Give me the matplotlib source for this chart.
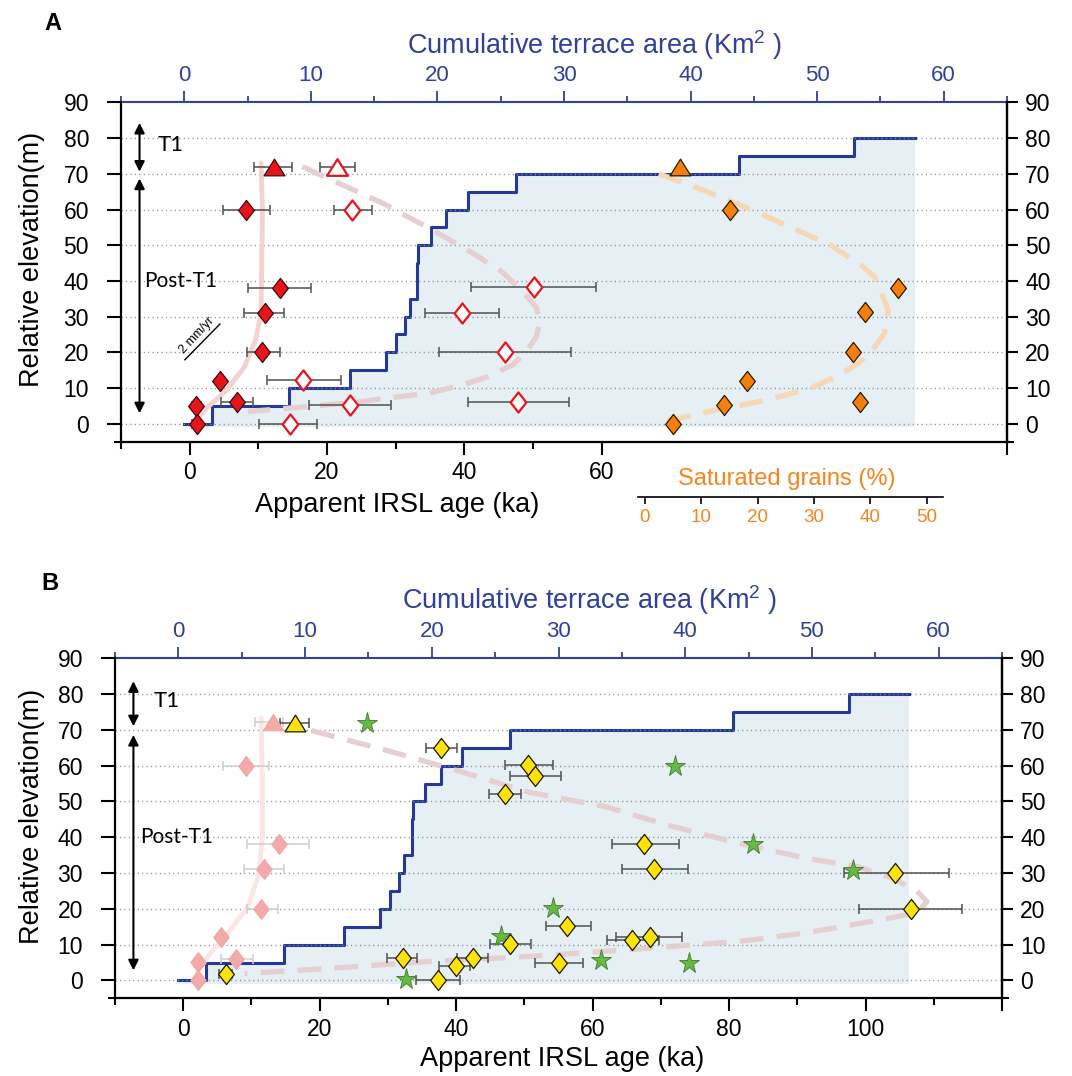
import matplotlib

matplotlib.use("Agg")

import matplotlib.pyplot as plt
from matplotlib.path import Path

plt.rcParams["font.family"] = ["Liberation Sans", "DejaVu Sans"]
plt.rcParams["mathtext.fontset"] = "custom"
plt.rcParams["mathtext.rm"] = "Liberation Sans"

W, H = 1072, 1076

BLUE = "#2f4199"
FILL = "#e6eff3"
RED = "#e8141c"
ORANGE = "#f47f0d"
ORANGE_TXT = "#f5841f"
YELLOW = "#ffe20a"
GREEN = "#66b945"
PINK = "#f6a9aa"
DASH_RED = "#e6cfd0"
DASH_ORANGE = "#f6d8b6"
TREND = "#f5d2d2"

# cumulative terrace area (km2) vs relative elevation (m), shared by both panels
STEP_AREA = [0, 2.2, 8.3, 13.1, 15.9, 16.7, 17.4, 17.8, 18.4, 18.5, 19.5, 20.7, 22.4, 26.2, 43.8, 52.9, 57.7]
STEP_ELEV = [0, 5, 10, 15, 20, 25, 30, 35, 45, 50, 55, 60, 65, 70, 75, 80, 80]

# panel A, filled red samples (age ka, elevation m, error low, error high)
A_RED_TRI = [12.3, 72.0, 9.4, 14.9]
A_RED_AGE = [8.2, 13.2, 10.9, 10.5, 4.4, 6.9, 0.9, 1.0]
A_RED_ELEV = [60, 38, 31, 20, 12, 6, 5, 0]
A_RED_LO = [4.8, 8.5, 7.9, 8.3, 4.4, 4.5, 0.3, 0.4]
A_RED_HI = [11.7, 17.7, 13.8, 13.2, 4.4, 9.2, 1.6, 1.6]

# panel A, open red samples
A_OPEN_TRI = [21.5, 72.0, 19.0, 24.0]
A_OPEN_AGE = [23.7, 50.1, 39.6, 45.9, 16.5, 47.8, 23.4, 14.6]
A_OPEN_ELEV = [60, 38.3, 30.9, 20, 12.1, 6.1, 5.1, 0]
A_OPEN_LO = [21.0, 40.9, 34.2, 36.3, 11.2, 40.5, 17.3, 10.1]
A_OPEN_HI = [26.6, 59.1, 45.0, 55.5, 22.0, 55.2, 29.3, 18.6]

# panel A, saturated grains (%)
A_SAT_TRI = [6.3, 71.8]
A_SAT_PCT = [15.2, 45.0, 39.1, 37.0, 18.1, 14.0, 38.1, 5.0]
A_SAT_ELEV = [60, 38, 31.2, 20.2, 12, 5.1, 6, 0]

# panel A trend curves
A_TREND_AGE = [10.4, 10.6, 10.5, 10.4, 9.6, 8.0, 5.4, 2.7, 0.9]
A_TREND_ELEV = [73, 60, 46, 31, 23.5, 16, 9.4, 4.8, 1]
A_DASH_AGE = [16.4, 21.8, 28.2, 35.4, 41.3, 45.5, 48.5, 50.5, 51.0, 50.5, 49.0, 47.0, 43.5, 40.0,
              35.0, 29.5, 24.0, 19.0, 13.5, 8.5]
A_DASH_ELEV = [72.0, 67.3, 61.7, 54.2, 47.7, 42.5, 37.0, 32.5, 28.5, 24.5, 20.0, 16.5, 13.2, 11.0,
               8.6, 7.3, 6.0, 5.1, 4.2, 3.4]
A_SAT_DASH_PCT = [2.5, 9.6, 19.2, 25.8, 33.0, 38.4, 40.8, 43.2, 42.5, 40.4, 37.8, 33.9, 29.2, 21.4,
                  13.7, 5.8, 2.6]
A_SAT_DASH_ELEV = [70, 65.9, 59.8, 55.1, 50, 44.4, 41.1, 31.8, 25.2, 20.6, 16.8, 13.1, 9.8, 6.5,
                   4.2, 1.4, 0.5]
SLOPE_AGE = [-0.7, 4.4]
SLOPE_ELEV = [17.9, 27.9]

# panel B, faded copy of panel A red samples
B_PINK_TRI = [13.2, 72.3, 10.5, 14.6]
B_PINK_AGE = [9.2, 14.0, 11.9, 11.4, 5.5, 7.7, 2.1, 2.1]
B_PINK_ELEV = [60, 38, 31, 20, 12.1, 5.9, 5.1, 0]
B_PINK_LO = [5.8, 9.4, 8.9, 9.3, 5.5, 5.5, 2.1, 2.1]
B_PINK_HI = [12.6, 18.5, 14.7, 13.9, 5.5, 10.2, 2.1, 2.1]

# panel B, yellow samples
B_YEL_TRI = [16.4, 72.0, 14.2, 18.4]
B_YEL_AGE = [6.2, 37.3, 40.0, 42.5, 32.2, 47.9, 55.0, 56.3, 65.8, 68.4, 67.5, 69.0, 104.3, 106.6,
             47.1, 50.6, 51.6, 37.8]
B_YEL_ELEV = [1.8, 0, 4.1, 6.3, 6.3, 10.3, 4.8, 15.2, 11.4, 12.2, 38.1, 31.1, 30, 20,
              52.1, 60.1, 57.0, 65.0]
B_YEL_LO = [5.3, 34.1, 37.5, 40.1, 29.9, 44.9, 51.5, 53.1, 62.1, 63.5, 62.8, 64.3, 96.8, 99.0,
            44.8, 47.2, 47.9, 35.6]
B_YEL_HI = [7.2, 40.5, 42.1, 44.6, 34.3, 50.9, 58.6, 59.8, 69.7, 73.1, 72.6, 74.0, 112.2, 114.2,
            49.5, 54.2, 55.4, 40.1]

# panel B, green stars
B_STAR_AGE = [27.0, 72.1, 83.5, 98.2, 54.2, 46.5, 61.2, 74.1, 32.6]
B_STAR_ELEV = [71.8, 59.9, 38.0, 30.9, 20.2, 12.4, 5.8, 4.9, 0.4]

# panel B trend curves
B_TREND_AGE = [11.4, 11.6, 11.6, 11.1, 9.5, 6.5, 3.9, 2.1]
B_TREND_ELEV = [73.3, 56, 40.2, 29.9, 20.6, 13.1, 7.5, 2.3]
B_DASH_AGE = [18.8, 30.9, 41.1, 50.8, 61.8, 71.7, 81.5, 91.4, 98.8, 104.0, 107.5, 109.0, 107.5,
              101.2, 91.4, 81.5, 71.7, 61.8, 50.8, 36.2, 21.7, 9.0]
B_DASH_ELEV = [69.8, 63.7, 58.1, 52.5, 48.6, 43.0, 38.3, 34.1, 31.8, 28.5, 25.0, 22.0, 18.9,
               16.6, 13.3, 10.9, 9.5, 8.1, 6.7, 5.3, 3.4, 1.9]

SAT_LIM = (-1.2, 52.9)

DIAMOND = Path([(0, 1), (0.78, 0), (0, -1), (-0.78, 0), (0, 1)],
               [Path.MOVETO, Path.LINETO, Path.LINETO, Path.LINETO, Path.CLOSEPOLY])
TRIANGLE = Path([(0, 0.8), (1, -0.8), (-1, -0.8), (0, 0.8)],
                [Path.MOVETO, Path.LINETO, Path.LINETO, Path.CLOSEPOLY])

fig = plt.figure(figsize=(W / 100, H / 100), dpi=100)


def px_rect(x0, x1, ytop, ybot):
    return [x0 / W, 1 - ybot / H, (x1 - x0) / W, (ybot - ytop) / H]


def make_panel(rect, age_max, major, major_labels, minor):
    ax = fig.add_axes(rect)
    ax_area = ax.twiny()
    ax_area.set_zorder(1)
    ax.set_zorder(2)
    ax.patch.set_visible(False)

    ax.set_xlim(-10, age_max)
    ax.set_ylim(-5, 90)
    ax_area.set_xlim(-5, 65)

    for name in ["left", "right", "bottom"]:
        ax.spines[name].set_linewidth(1.6)
        ax_area.spines[name].set_visible(False)
    ax.spines["top"].set_visible(False)
    ax_area.spines["top"].set_color(BLUE)
    ax_area.spines["top"].set_linewidth(1.5)

    ax.set_xticks(major)
    ax.set_xticklabels(major_labels)
    ax.set_xticks(minor, minor=True)
    ax.tick_params(axis="x", which="major", direction="out", length=9, width=1.5, labelsize=16.5, pad=5)
    ax.tick_params(axis="x", which="minor", direction="out", length=5, width=1.5)

    ax.set_yticks(range(0, 91, 10))
    ax.set_yticks([-5], minor=True)
    ax.tick_params(axis="y", which="both", direction="out", width=1.5, labelsize=16.5, pad=13)
    ax.tick_params(axis="y", which="major", length=10)
    ax.tick_params(axis="y", which="minor", length=5)

    right = ax.secondary_yaxis("right")
    right.set_yticks(range(0, 91, 10))
    right.set_yticks([-5], minor=True)
    right.spines["right"].set_linewidth(1.6)
    right.tick_params(which="both", direction="out", width=1.5, labelsize=16.5, pad=5)
    right.tick_params(which="major", length=8)
    right.tick_params(which="minor", length=5, labelright=False)

    ax_area.set_xticks(range(0, 61, 10))
    ax_area.set_xticks(range(-5, 66, 10), minor=True)
    ax_area.tick_params(axis="x", which="both", direction="out", color=BLUE, labelcolor=BLUE,
                        width=1.3, labelsize=16, pad=4)
    ax_area.tick_params(axis="x", which="major", length=8)
    ax_area.tick_params(axis="x", which="minor", length=4)

    for level in range(0, 81, 10):
        ax.axhline(level, color="#8c8c8c", lw=1.0, ls=(0, (0.8, 2.4)), zorder=1)

    ax_area.fill_between(STEP_AREA, -1, STEP_ELEV, step="post", color=FILL, lw=0, zorder=0.5)
    ax_area.plot(STEP_AREA, STEP_ELEV, drawstyle="steps-post", color="#24399a", lw=2.2, zorder=2)
    return ax


def points(ax, x, y, lo, hi, marker, size, face, edge, ecolor, ew=0.9):
    xerr = [[a - b for a, b in zip(x, lo)], [b - a for a, b in zip(x, hi)]]
    ax.errorbar(x, y, xerr=xerr, fmt="none", ecolor=ecolor, elinewidth=1.1, capsize=3.5,
                capthick=1.1, zorder=3)
    ax.plot(x, y, linestyle="none", marker=marker, markersize=size, markerfacecolor=face,
            markeredgecolor=edge, markeredgewidth=ew, zorder=4)


def side_notes(ax, t1_arrow, post_arrow, t1_pos, post_pos):
    for ys in (t1_arrow, post_arrow):
        ax.annotate("", xy=(-7.3, ys[0]), xytext=(-7.3, ys[1]),
                    arrowprops=dict(arrowstyle="<|-|>", color="black", lw=1.5, mutation_scale=15,
                                    shrinkA=0, shrinkB=0), zorder=5)
    ax.text(t1_pos[0], t1_pos[1], "T1", family=["Lato", "DejaVu Sans"], fontsize=16,
            ha="left", va="center")
    ax.text(post_pos[0], post_pos[1], "Post-T1", family=["Lato", "DejaVu Sans"], fontsize=15,
            ha="left", va="center")


# ---------------- panel A ----------------
ax_a = make_panel(px_rect(121, 1007, 102.5, 441.5), 119, [0, 20, 40, 60, 119],
                  ["0", "20", "40", "60", ""], [-10, 10, 30, 50])

ax_a.plot(A_TREND_AGE, A_TREND_ELEV, color=TREND, lw=3.5, solid_capstyle="round", zorder=2)
ax_a.plot(A_DASH_AGE, A_DASH_ELEV, color=DASH_RED, lw=3.8, dashes=(4.5, 2.5), zorder=2)

points(ax_a, A_RED_AGE, A_RED_ELEV, A_RED_LO, A_RED_HI, DIAMOND, 14.5, RED, "#3a0a0a", "#505050")
points(ax_a, [A_RED_TRI[0]], [A_RED_TRI[1]], [A_RED_TRI[2]], [A_RED_TRI[3]], TRIANGLE, 15, RED,
       "#3a0a0a", "#505050")
points(ax_a, A_OPEN_AGE, A_OPEN_ELEV, A_OPEN_LO, A_OPEN_HI, DIAMOND, 14.5, "white", RED, "#505050",
       ew=1.6)
points(ax_a, [A_OPEN_TRI[0]], [A_OPEN_TRI[1]], [A_OPEN_TRI[2]], [A_OPEN_TRI[3]], TRIANGLE, 15,
       "white", RED, "#505050", ew=1.6)

ax_a.plot(SLOPE_AGE, SLOPE_ELEV, color="black", lw=1.0, zorder=5)
ax_a.text(1.0, 24.8, "2 mm/yr", rotation=47, fontsize=9, ha="center", va="center", zorder=5)

side_notes(ax_a, (84.3, 70.6), (68.7, 2.9), (-4.6, 78), (-6.6, 40))

# saturated grains share panel A's elevations; scale placed under the right part
sat_x0, sat_x1 = 638 / W, 943 / W
ax_sat = ax_a.twiny()
ax_sat.set_zorder(3)
ax_sat.patch.set_visible(False)
ax_sat.axis("off")
pa = ax_a.get_position()
per_frac = (SAT_LIM[1] - SAT_LIM[0]) / (sat_x1 - sat_x0)
ax_sat.set_xlim(SAT_LIM[0] - (sat_x0 - pa.x0) * per_frac, SAT_LIM[1] + (pa.x1 - sat_x1) * per_frac)
ax_sat.plot(A_SAT_DASH_PCT, A_SAT_DASH_ELEV, color=DASH_ORANGE, lw=3.8, dashes=(4.5, 2.5), zorder=2)
ax_sat.plot(A_SAT_PCT, A_SAT_ELEV, linestyle="none", marker=DIAMOND, markersize=14.5,
            markerfacecolor=ORANGE, markeredgecolor="#2a1a00", markeredgewidth=0.9, zorder=4)
ax_sat.plot([A_SAT_TRI[0]], [A_SAT_TRI[1]], linestyle="none", marker=TRIANGLE, markersize=15,
            markerfacecolor=ORANGE, markeredgecolor="#2a1a00", markeredgewidth=0.9, zorder=4)

ax_scale = fig.add_axes([sat_x0, 1 - 496.7 / H, sat_x1 - sat_x0, 0.001])
ax_scale.patch.set_visible(False)
for name in ["left", "right", "top"]:
    ax_scale.spines[name].set_visible(False)
ax_scale.spines["bottom"].set_linewidth(1.2)
ax_scale.set_xlim(*SAT_LIM)
ax_scale.set_yticks([])
ax_scale.set_xticks(range(0, 51, 10))
ax_scale.tick_params(axis="x", direction="out", length=5, width=1.2, labelcolor=ORANGE_TXT,
                     labelsize=13.5, pad=4)
fig.text(787 / W, 1 - 479 / H, "Saturated grains (%)", color=ORANGE_TXT, fontsize=17,
         ha="center", va="center")

# ---------------- panel B ----------------
ax_b = make_panel(px_rect(115, 1002, 658.3, 998.3), 120, [0, 20, 40, 60, 80, 100, 120],
                  ["0", "20", "40", "60", "80", "100", ""], [-10, 10, 30, 50, 70, 90, 110])

ax_b.plot(B_TREND_AGE, B_TREND_ELEV, color="#fbe6e6", lw=3.5, solid_capstyle="round", zorder=2)
ax_b.plot(B_DASH_AGE, B_DASH_ELEV, color=DASH_RED, lw=3.8, dashes=(4.5, 2.5), zorder=2)

points(ax_b, B_PINK_AGE, B_PINK_ELEV, B_PINK_LO, B_PINK_HI, DIAMOND, 14.5, PINK, "#eba3a3",
       "#cfcfcf", ew=0.6)
points(ax_b, [B_PINK_TRI[0]], [B_PINK_TRI[1]], [B_PINK_TRI[2]], [B_PINK_TRI[3]], TRIANGLE, 15,
       PINK, "#eba3a3", "#cfcfcf", ew=0.6)
ax_b.plot(B_STAR_AGE, B_STAR_ELEV, linestyle="none", marker="*", markersize=15.5,
          markerfacecolor=GREEN, markeredgecolor="#3f7a2c", markeredgewidth=0.6, zorder=4)
points(ax_b, B_YEL_AGE, B_YEL_ELEV, B_YEL_LO, B_YEL_HI, DIAMOND, 14.5, YELLOW, "#1a1a00",
       "#505050")
points(ax_b, [B_YEL_TRI[0]], [B_YEL_TRI[1]], [B_YEL_TRI[2]], [B_YEL_TRI[3]], TRIANGLE, 15,
       YELLOW, "#1a1a00", "#505050")

side_notes(ax_b, (83.6, 71.0), (68.6, 2.8), (-4.4, 78), (-6.3, 40))

# ---------------- labels ----------------
title = r"Cumulative terrace area (Km$^{2}$ )"
for (px_x, px_y), letter, (tx, ty), (xx, xy), ly in [
    ((53, 23), "A", (595, 54), (397, 512), 259),
    ((50, 584), "B", (590, 609), (562, 1066), 816),
]:
    fig.text(px_x / W, 1 - px_y / H, letter, fontsize=17, weight="bold", ha="center", va="center")
    fig.text(tx / W, 1 - ty / H, title, color=BLUE, fontsize=19.5, ha="center", va="baseline")
    fig.text(xx / W, 1 - xy / H, "Apparent IRSL age (ka)", fontsize=19.5, ha="center",
             va="baseline")
    fig.text(32 / W, 1 - ly / H, "Relative elevation(m)", fontsize=19.5, rotation=90,
             ha="center", va="center")

fig.savefig("out.png", dpi=100)
